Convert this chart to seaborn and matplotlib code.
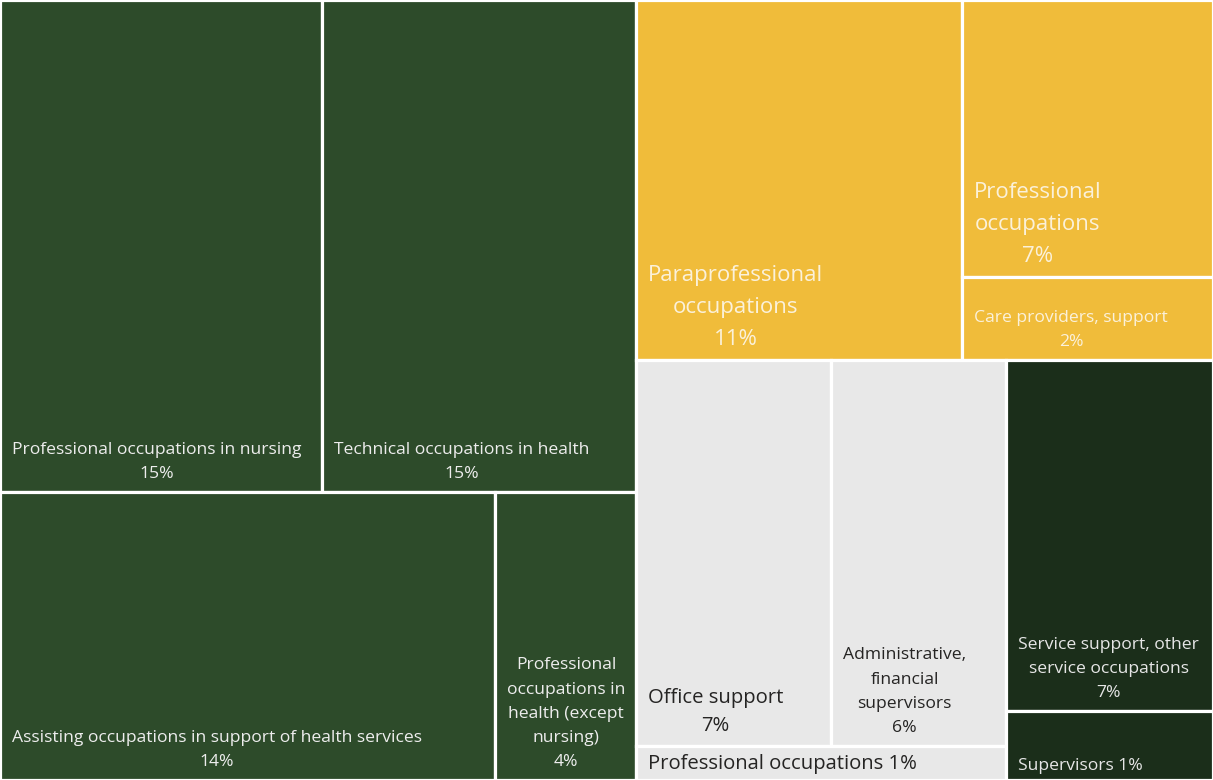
import matplotlib
matplotlib.use("Agg")
import matplotlib.pyplot as plt
from matplotlib.patches import Rectangle
import seaborn as sns

# Treemap data: share of employment (%), grouped by colour block
categories = [
    "Professional occupations in nursing",
    "Technical occupations in health",
    "Assisting occupations in support of health services",
    "Professional\noccupations in\nhealth (except\nnursing)",
    "Paraprofessional\noccupations",
    "Professional\noccupations",
    "Care providers, support",
    "Office support",
    "Administrative,\nfinancial\nsupervisors",
    "Professional occupations",
    "Service support, other\nservice occupations",
    "Supervisors",
]
shares = [15.07, 14.70, 13.56, 3.86, 11.16, 6.61, 1.98, 7.16, 6.43, 1.20, 6.91, 1.36]
group_of = [0, 0, 0, 0, 1, 1, 1, 2, 2, 2, 3, 3]

# styling
group_colors = ["#2D4B2A", "#F0BC3A", "#E8E8E8", "#1B2E1A"]
text_colors = ["#EDEDED", "#FBF1DA", "#252423", "#E6E6E6"]
size_tier = ["s", "s", "s", "s", "l", "l", "s", "m", "s", "m", "s", "s"]
tier_pt = {"s": 12.6, "m": 14.6, "l": 16.0}
tier_spacing = {"s": 1.68, "m": 1.56, "l": 1.67}

W, H = 1213, 780
RATIO = 1.18  # squarify target aspect


def squarify(values, x0, y0, x1, y1, ratio=RATIO):
    """Squarified treemap (d3 style), values sorted descending."""
    rects = []
    total = float(sum(values))
    i0, n = 0, len(values)
    while i0 < n:
        dx, dy = x1 - x0, y1 - y0
        i1 = i0 + 1
        s = mn = mx = values[i0]
        alpha = max(dy / dx, dx / dy) / (total * ratio)
        beta = s * s * alpha
        best = max(mx / beta, beta / mn)
        while i1 < n:
            v = values[i1]
            s2, mn2, mx2 = s + v, min(mn, v), max(mx, v)
            beta = s2 * s2 * alpha
            r = max(mx2 / beta, beta / mn2)
            if r > best:
                break
            s, mn, mx, best = s2, mn2, mx2, r
            i1 += 1
        row = values[i0:i1]
        if dx < dy:
            yb = y0 + dy * s / total if i1 < n else y1
            xa = x0
            for v in row:
                w = dx * v / s
                rects.append((xa, y0, xa + w, yb))
                xa += w
            y0 = yb
        else:
            xb = x0 + dx * s / total if i1 < n else x1
            ya = y0
            for v in row:
                h = dy * v / s
                rects.append((x0, ya, xb, ya + h))
                ya += h
            x0 = xb
        total -= s
        i0 = i1
    return rects


sns.set_theme(style="white")
plt.rcParams["font.family"] = ["Open Sans", "DejaVu Sans"]

fig = plt.figure(figsize=(W / 100, H / 100), dpi=100)
ax = fig.add_axes([0, 0, 1, 1])
ax.set_xlim(0, W)
ax.set_ylim(H, 0)
ax.axis("off")

n_groups = len(group_colors)
group_tot = [sum(v for v, g in zip(shares, group_of) if g == k) for k in range(n_groups)]
g_order = sorted(range(n_groups), key=lambda k: -group_tot[k])
g_rects = squarify([group_tot[k] for k in g_order], 0, 0, W, H)

for k, (gx0, gy0, gx1, gy1) in zip(g_order, g_rects):
    idx = sorted([i for i in range(len(shares)) if group_of[i] == k], key=lambda i: -shares[i])
    leaf_rects = squarify([shares[i] for i in idx], gx0, gy0, gx1, gy1)
    for i, (x0, y0, x1, y1) in zip(idx, leaf_rects):
        ax.add_patch(Rectangle((x0, y0), x1 - x0, y1 - y0, facecolor=group_colors[k],
                               edgecolor="white", linewidth=2.3))
        value_txt = f"{round(shares[i])}%"
        short = (y1 - y0) < 75
        sep = " " if short else "\n"
        tier = size_tier[i]
        ax.text(x0 + 12, y1 - (6 if short else 10), categories[i] + sep + value_txt,
                ha="left", va="bottom", multialignment="center",
                fontsize=tier_pt[tier], color=text_colors[k],
                linespacing=tier_spacing[tier])

fig.savefig("out.png", dpi=100)
